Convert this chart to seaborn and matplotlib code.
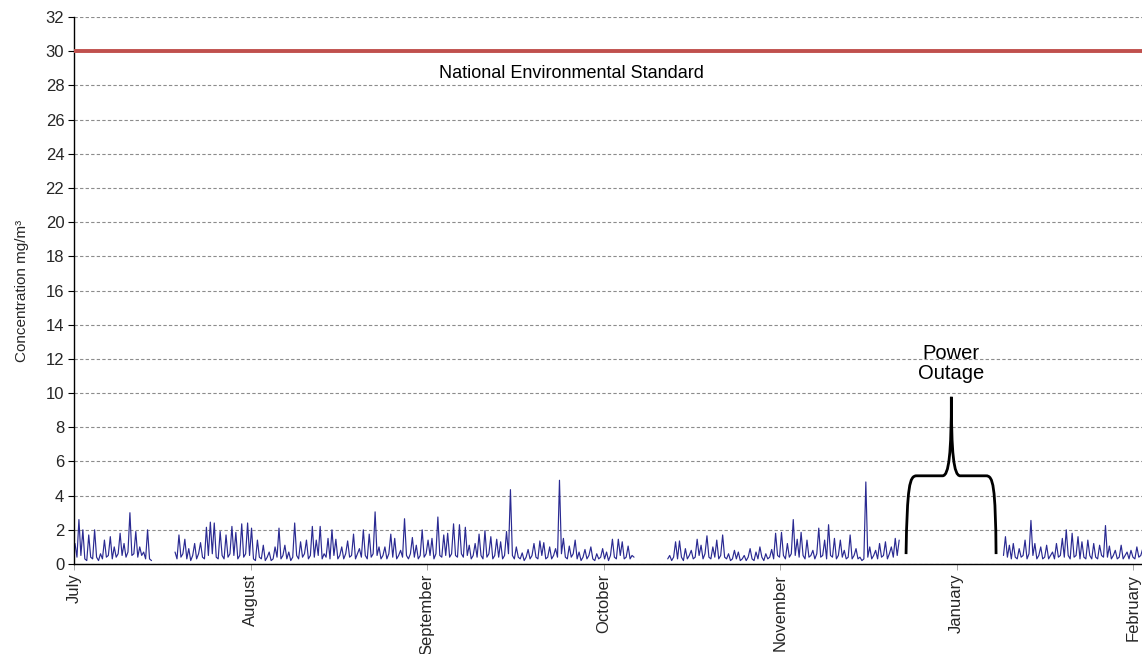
import numpy as np
import pandas as pd
import matplotlib
matplotlib.use("Agg")
import matplotlib.pyplot as plt
from matplotlib.path import Path
from matplotlib.patches import PathPatch
import seaborn as sns

# ---- axis labels -------------------------------------------------------
months = ["July", "August", "September", "October", "November", "January", "February"]
month_days = [0, 30, 60, 90, 120, 150, 180]
standard_value = 30
standard_label = "National Environmental Standard"
outage_label = "Power\nOutage"

# ---- monitoring record (8-hourly readings, mg/m3) ----------------------
reading_step = 1 / 3  # days between readings
segment_start_days = [0.17, 17.17, 100.9, 157.96]

july = [1.2, 0.4, 2.6, 0.5, 2.0, 0.3, 0.2, 1.7, 0.4, 0.3,
        2.0, 0.4, 0.2, 0.6, 0.3, 1.4, 0.4, 0.5, 1.6, 0.3,
        1.0, 0.4, 0.6, 1.8, 0.5, 1.2, 0.4, 0.7, 3.0, 0.5,
        0.6, 1.9, 0.4, 1.0, 0.5, 0.7, 0.3, 2.0, 0.3, 0.2]

aug_sep = [0.7, 0.3, 1.7, 0.4, 0.6, 1.45, 0.3, 0.9, 0.2, 0.5,
           1.2, 0.3, 0.6, 1.25, 0.4, 0.3, 2.15, 0.5, 2.45, 0.6,
           2.4, 0.4, 0.3, 1.9, 0.5, 0.3, 1.7, 0.4, 0.6, 2.2,
           0.5, 1.85, 0.3, 0.5, 2.35, 0.4, 0.6, 2.4, 0.5, 2.1,
           0.3, 0.2, 1.4, 0.4, 0.3, 1.1, 0.2, 0.4, 0.7, 0.2,
           0.3, 1.0, 0.4, 2.1, 0.3, 0.5, 1.1, 0.3, 0.7, 0.2,
           0.4, 2.4, 0.5, 0.3, 1.3, 0.4, 0.6, 1.4, 0.3, 0.5,
           2.2, 0.4, 1.4, 0.5, 2.2, 0.3, 0.6, 0.4, 1.5, 0.3,
           2.0, 0.5, 1.45, 0.3, 0.5, 1.0, 0.3, 0.6, 1.35, 0.4,
           0.5, 1.75, 0.3, 0.6, 0.9, 0.4, 2.0, 0.5, 0.3, 1.75,
           0.4, 0.6, 3.05, 0.5, 1.0, 0.3, 0.5, 1.0, 0.3, 0.6,
           1.75, 0.4, 1.5, 0.3, 0.5, 0.8, 0.4, 2.65, 0.5, 0.3,
           0.6, 1.55, 0.4, 1.1, 0.3, 0.5, 2.0, 0.4, 0.6, 1.4,
           0.5, 1.5, 0.3, 0.6, 2.75, 0.5, 0.4, 1.7, 0.5, 1.8,
           0.4, 0.6, 2.35, 0.5, 0.4, 2.3, 0.6, 0.4, 2.15, 0.5,
           1.1, 0.3, 0.5, 1.2, 0.4, 1.75, 0.5, 0.3, 1.95, 0.4,
           0.6, 1.6, 0.3, 0.5, 1.45, 0.4, 1.3, 0.3, 0.5, 1.9,
           0.6, 4.35, 0.5, 0.3, 1.0, 0.4, 0.3, 0.65, 0.2, 0.4,
           0.85, 0.3, 0.5, 1.2, 0.4, 0.3, 1.35, 0.5, 1.25, 0.3,
           0.4, 1.0, 0.3, 0.5, 0.9, 0.4, 4.9, 0.6, 1.5, 0.4,
           0.3, 1.05, 0.4, 0.6, 1.4, 0.3, 0.7, 0.2, 0.4, 0.85,
           0.3, 0.5, 1.0, 0.3, 0.2, 0.6, 0.3, 0.4, 0.9, 0.3,
           0.7, 0.2, 0.5, 1.45, 0.4, 0.3, 1.45, 0.5, 1.3, 0.3,
           0.4, 1.05, 0.3, 0.5, 0.4]

oct_nov = [0.3, 0.5, 0.2, 0.4, 1.3, 0.3, 1.35, 0.4, 0.2, 0.9,
           0.3, 0.5, 0.8, 0.3, 0.4, 1.45, 0.5, 1.1, 0.3, 0.6,
           1.65, 0.4, 0.3, 1.0, 0.4, 1.4, 0.3, 0.5, 1.7, 0.4,
           0.3, 0.6, 0.2, 0.3, 0.8, 0.3, 0.7, 0.2, 0.3, 0.5,
           0.2, 0.4, 0.9, 0.3, 0.2, 0.7, 0.3, 1.0, 0.4, 0.2,
           0.6, 0.3, 0.4, 0.85, 0.3, 1.8, 0.5, 0.4, 1.85, 0.5,
           0.3, 1.2, 0.4, 0.6, 2.6, 0.5, 1.45, 0.4, 1.85, 0.5,
           0.3, 1.4, 0.4, 0.5, 0.8, 0.3, 0.6, 2.1, 0.4, 0.5,
           1.4, 0.3, 2.3, 0.5, 0.4, 1.5, 0.3, 0.5, 1.4, 0.4,
           0.8, 0.3, 0.4, 1.7, 0.3, 0.5, 0.9, 0.3, 0.4, 0.2,
           0.3, 4.8, 0.4, 1.0, 0.3, 0.5, 0.8, 0.3, 1.2, 0.4,
           0.5, 1.3, 0.3, 0.6, 1.0, 0.4, 1.5, 0.5, 1.4]

jan_feb = [0.5, 1.6, 0.4, 1.1, 0.3, 1.2, 0.4, 0.3, 0.9, 0.4,
           0.5, 1.4, 0.3, 0.6, 2.55, 0.5, 1.2, 0.3, 0.5, 1.0,
           0.3, 0.4, 1.1, 0.3, 0.5, 0.7, 0.3, 1.2, 0.4, 0.5,
           1.5, 0.4, 2.0, 0.5, 0.3, 1.8, 0.4, 0.5, 1.6, 0.3,
           1.3, 0.4, 0.3, 1.4, 0.5, 0.3, 1.2, 0.4, 0.3, 1.1,
           0.5, 0.4, 2.25, 0.4, 1.05, 0.3, 0.5, 0.8, 0.3, 0.4,
           1.1, 0.3, 0.5, 0.7, 0.3, 0.8, 0.4, 0.3, 1.0, 0.4,
           0.5, 0.9]

segments = [july, aug_sep, oct_nov, jan_feb]

frames = []
for seg_id, (start, values) in enumerate(zip(segment_start_days, segments)):
    frames.append(pd.DataFrame({
        "day": start + reading_step * np.arange(len(values)),
        "concentration": values,
        "segment": seg_id,
    }))
records = pd.concat(frames, ignore_index=True)

# ---- figure ------------------------------------------------------------
sns.set_theme(style="white")
plt.rcParams["font.family"] = ["Liberation Sans", "DejaVu Sans"]

fig = plt.figure(figsize=(11.42, 6.54), dpi=100)
ax = fig.add_axes([0.0648, 0.1376, 0.9352, 0.8364])

ax.set_ylim(0, 32)
ax.set_xlim(0, 181.5)
ax.set_yticks(np.arange(0, 33, 2))
ax.yaxis.grid(True, linestyle=(0, (3, 2)), color="#8c8c8c", linewidth=0.8)
ax.set_axisbelow(True)

sns.lineplot(data=records, x="day", y="concentration", units="segment",
             estimator=None, color="#2A2A92", linewidth=0.85, ax=ax,
             legend=False)

# environmental standard
ax.axhline(standard_value, color="#C0504D", linewidth=2.8, zorder=3)
ax.text(84.5, 28.7, standard_label, ha="center", va="center",
        fontsize=13, color="black")

# curly brace marking the outage
brace_verts = [
    (141.4, 0.58), (141.6, 4.6), (142.0, 5.16), (143.2, 5.16),
    (147.6, 5.16),
    (148.7, 5.16), (149.1, 6.5), (149.1, 9.78),
    (149.1, 6.5), (149.5, 5.16), (150.6, 5.16),
    (155.0, 5.16),
    (156.2, 5.16), (156.6, 4.6), (156.7, 0.58),
]
brace_codes = [Path.MOVETO, Path.CURVE4, Path.CURVE4, Path.CURVE4,
               Path.LINETO,
               Path.CURVE4, Path.CURVE4, Path.CURVE4,
               Path.CURVE4, Path.CURVE4, Path.CURVE4,
               Path.LINETO,
               Path.CURVE4, Path.CURVE4, Path.CURVE4]
ax.add_patch(PathPatch(Path(brace_verts, brace_codes), facecolor="none",
                       edgecolor="black", linewidth=2.0, zorder=4))
ax.text(149.1, 11.75, outage_label, ha="center", va="center",
        fontsize=14.5, linespacing=1.05, color="black")

# axes styling
ax.set_xticks(month_days)
ax.set_xticklabels(months, rotation=90, fontsize=12)
ax.tick_params(axis="y", labelsize=12, length=4, width=0.8, color="black",
               left=True, pad=3)
ax.tick_params(axis="x", length=4, width=0.6, color="#999999", bottom=True,
               pad=3)
ax.set_xlabel("")
ax.set_ylabel("Concentration mg/m³", fontsize=11, labelpad=12)

for side in ["top", "right"]:
    ax.spines[side].set_visible(False)
for side in ["left", "bottom"]:
    ax.spines[side].set_visible(True)
    ax.spines[side].set_color("black")
    ax.spines[side].set_linewidth(1.0)

fig.savefig("out.png", dpi=100, facecolor="white")
